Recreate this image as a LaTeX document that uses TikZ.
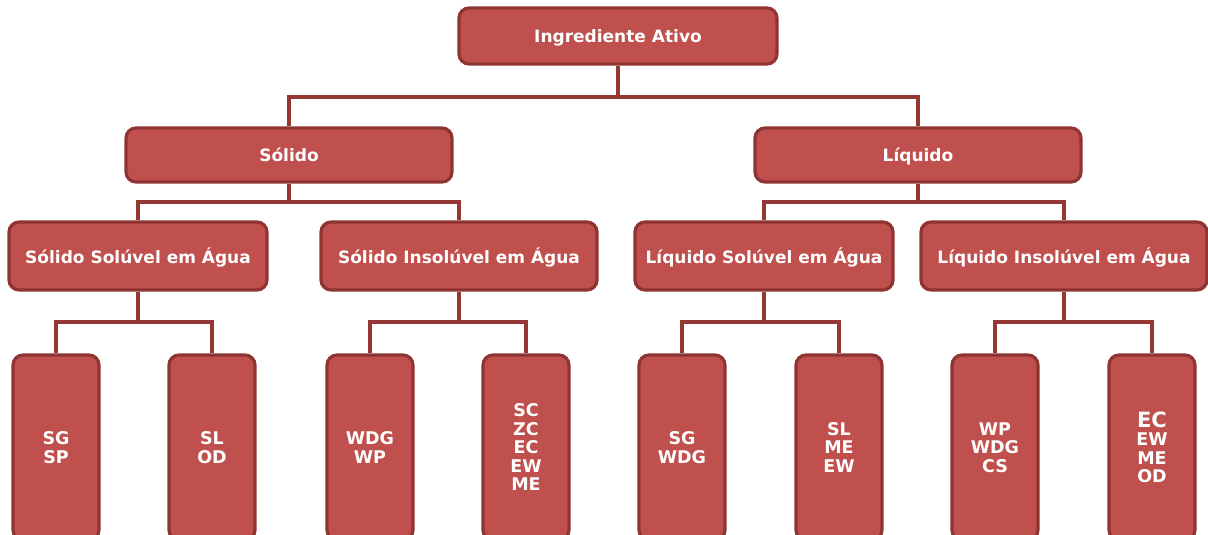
\documentclass[tikz,border=0pt]{standalone}
\usepackage{fontspec}
\setmainfont{DejaVu Sans}
\definecolor{boxfill}{HTML}{C0504D}
\definecolor{boxborder}{HTML}{8E3533}
\definecolor{connc}{HTML}{953735}
\begin{document}
\begin{tikzpicture}[x=1pt,y=-1pt,
  base/.style={draw=boxborder, line width=3.2pt, fill=boxfill, rounded corners=10pt,
    text=white, align=center, inner sep=0pt},
  box/.style={base, font=\bfseries\fontsize{17}{19}\selectfont, text depth=0pt},
  leaf/.style={base, minimum width=86pt, minimum height=185pt, font=\bfseries\fontsize{17.5}{18.5}\selectfont},
  conn/.style={draw=connc, line width=3.2pt}]
\useasboundingbox (0,0) rectangle (1208,535);
\clip (0,0) rectangle (1208,535);
\coordinate (b1) at (0,97);
\coordinate (b2) at (0,202);
\coordinate (b3) at (0,322);
\node[box, minimum width=318pt, minimum height=56pt] (top) at (618,36) {Ingrediente Ativo};
\node[box, minimum width=326pt, minimum height=54pt] (sol) at (289,155) {Sólido};
\node[box, minimum width=326pt, minimum height=54pt] (liq) at (918,155) {Líquido};
\node[box, minimum width=258pt, minimum height=68pt] (ss) at (138,256) {Sólido Solúvel em Água};
\node[box, minimum width=276pt, minimum height=68pt] (si) at (459,256) {Sólido Insolúvel em Água};
\node[box, minimum width=258pt, minimum height=68pt] (ls) at (764,256) {Líquido Solúvel em Água};
\node[box, minimum width=286pt, minimum height=68pt] (li) at (1064,256) {Líquido Insolúvel em Água};
\node[leaf] (l1) at (56,447.5) {SG\\SP};
\node[leaf] (l2) at (212,447.5) {SL\\OD};
\node[leaf] (l3) at (370,447.5) {WDG\\WP};
\node[leaf] (l4) at (526,447.5) {SC\\ZC\\EC\\EW\\ME};
\node[leaf] (l5) at (682,447.5) {SG\\WDG};
\node[leaf] (l6) at (839,447.5) {SL\\ME\\EW};
\node[leaf] (l7) at (995,447.5) {WP\\WDG\\CS};
\node[leaf] (l8) at (1152,447.5) {{\fontsize{21}{21}\selectfont EC}\\EW\\ME\\OD};
\draw[conn] (top.south) -- (top.south |- b1);
\draw[conn] (sol.north) -- (sol.north |- b1) -- (liq.north |- b1) -- (liq.north);
\draw[conn] (sol.south) -- (sol.south |- b2);
\draw[conn] (ss.north) -- (ss.north |- b2) -- (si.north |- b2) -- (si.north);
\draw[conn] (liq.south) -- (liq.south |- b2);
\draw[conn] (ls.north) -- (ls.north |- b2) -- (li.north |- b2) -- (li.north);
\draw[conn] (ss.south) -- (ss.south |- b3);
\draw[conn] (l1.north) -- (l1.north |- b3) -- (l2.north |- b3) -- (l2.north);
\draw[conn] (si.south) -- (si.south |- b3);
\draw[conn] (l3.north) -- (l3.north |- b3) -- (l4.north |- b3) -- (l4.north);
\draw[conn] (ls.south) -- (ls.south |- b3);
\draw[conn] (l5.north) -- (l5.north |- b3) -- (l6.north |- b3) -- (l6.north);
\draw[conn] (li.south) -- (li.south |- b3);
\draw[conn] (l7.north) -- (l7.north |- b3) -- (l8.north |- b3) -- (l8.north);
\end{tikzpicture}
\end{document}
